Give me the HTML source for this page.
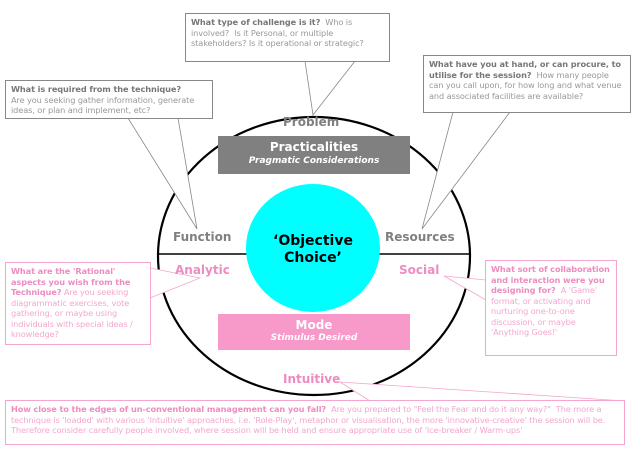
<!DOCTYPE html>
<html><head><meta charset="utf-8"><style>
html,body{margin:0;padding:0;background:#fff;}
body{width:638px;height:451px;overflow:hidden;position:relative;font-family:"DejaVu Sans","Liberation Sans",sans-serif;}
.b{position:absolute;background:#fff;font-size:8.2px;line-height:10.5px;padding:3px 5px;box-sizing:border-box;letter-spacing:-0.1px;}
.g{border:1px solid #888;color:#999;}
.g b{color:#777;}
.p{border:1px solid #f4a6cf;color:#f4a6cf;}
.p b{color:#ee8cc0;}
.l{position:absolute;font-weight:bold;font-size:12px;}
</style></head><body>
<svg width="638" height="451" style="position:absolute;left:0;top:0">
<ellipse cx="314" cy="256" rx="156" ry="139" fill="#fff" stroke="#000" stroke-width="2.2"/>
<line x1="158" y1="254" x2="470" y2="254" stroke="#000" stroke-width="1.5"/>
<ellipse cx="313" cy="248" rx="67" ry="64" fill="#00ffff"/>
<rect x="218" y="136" width="192" height="38" fill="#808080"/>
<rect x="218" y="314" width="192" height="36" fill="#f799c9"/>
<g fill="#fff" stroke="#888" stroke-width="0.8">
<polyline points="305,61 313,115 355,61"/>
<polyline points="128,118 197,229 178,118"/>
<polyline points="453,112 422,229 510,112"/>
</g>
<g fill="#fff" stroke="#f4a6cf" stroke-width="0.8">
<polyline points="150,268 200,278 150,298"/>
<polyline points="486,280 444,276 486,300"/>
<polyline points="370,401 340,382 625,401"/>
</g>
</svg>
<div class="b g" style="left:185px;top:13px;width:205px;height:49px;"><b>What type of challenge is it?</b>&nbsp; Who is involved?&nbsp; Is it Personal, or multiple stakeholders? Is it operational or strategic?</div>
<div class="b g" style="left:5px;top:80px;width:208px;height:39px;"><b>What is required from the technique?</b><br>Are you seeking gather information, generate ideas, or plan and implement, etc?</div>
<div class="b g" style="left:423px;top:55px;width:208px;height:58px;"><b>What have you at hand, or can procure, to utilise for the session?</b>&nbsp; How many people can you call upon, for how long and what venue and associated facilities are available?</div>
<div class="b p" style="left:5px;top:262px;width:146px;height:83px;"><b>What are the 'Rational' aspects you wish from the Technique?</b> Are you seeking diagrammatic exercises, vote gathering, or maybe using individuals with special ideas / knowledge?</div>
<div class="b p" style="left:485px;top:260px;width:132px;height:96px;"><b>What sort of collaboration and interaction were you designing for?</b>&nbsp; A 'Game' format, or activating and nurturing one-to-one discussion, or maybe 'Anything Goes!'</div>
<div class="b p" style="left:5px;top:400px;width:620px;height:45px;"><b>How close to the edges of un-conventional management can you fall?</b>&nbsp; Are you prepared to "Feel the Fear and do it any way?"&nbsp; The more a technique is 'loaded' with various 'Intuitive' approaches, i.e. 'Role-Play', metaphor or visualisation, the more 'innovative-creative' the session will be.&nbsp; Therefore consider carefully people involved, where session will be held and ensure appropriate use of 'Ice-breaker / Warm-ups'</div>
<div class="l" style="left:283px;top:115px;color:#808080;">Problem</div>
<div class="l" style="left:218px;top:140px;width:192px;text-align:center;color:#fff;">Practicalities</div>
<div style="position:absolute;left:218px;top:156px;width:192px;text-align:center;color:#fff;font-size:9px;font-weight:bold;font-style:italic;">Pragmatic Considerations</div>
<div class="l" style="left:173px;top:230px;color:#808080;">Function</div>
<div class="l" style="left:385px;top:230px;color:#808080;">Resources</div>
<div class="l" style="left:246px;top:233px;width:134px;text-align:center;color:#000;font-size:14px;line-height:17px;">‘Objective<br>Choice’</div>
<div class="l" style="left:175px;top:263px;color:#ee8cc0;">Analytic</div>
<div class="l" style="left:399px;top:263px;color:#ee8cc0;">Social</div>
<div class="l" style="left:218px;top:318px;width:192px;text-align:center;color:#fff;">Mode</div>
<div style="position:absolute;left:218px;top:333px;width:192px;text-align:center;color:#fff;font-size:9px;font-weight:bold;font-style:italic;">Stimulus Desired</div>
<div class="l" style="left:283px;top:372px;color:#ee8cc0;">Intuitive</div>
</body></html>
